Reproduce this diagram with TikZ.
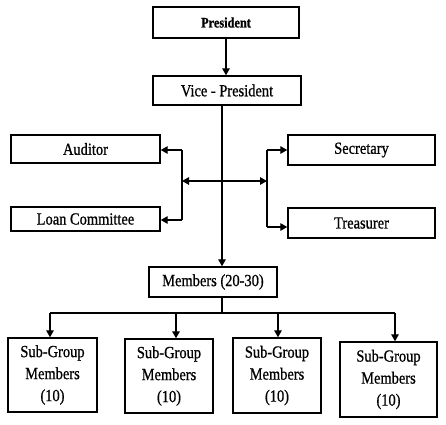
\documentclass[tikz,border=0pt]{standalone}
\usepackage{fontspec}
\setmainfont[FakeStretch=0.85,FakeBold=0.8,BoldFeatures={FakeStretch=0.85,FakeBold=0.8}]{Liberation Serif}
\usetikzlibrary{arrows.meta}
\begin{document}
\begin{tikzpicture}[x=1pt,y=-1pt,
  box/.style={draw,line width=1.4pt,rectangle,inner sep=0pt,font=\fontsize{17}{22}\selectfont,align=center},
  conn/.style={line width=1.3pt},
  arr/.style={conn,-{Triangle[length=7pt,width=7.5pt]}},
  darr/.style={conn,{Triangle[length=7pt,width=7.5pt]}-{Triangle[length=7pt,width=7.5pt]}}]
\useasboundingbox (0,0) rectangle (446,424);
\node[box,minimum width=146pt,minimum height=31pt,font=\fontsize{14.5}{16}\selectfont\bfseries] (pres) at (226,22.5) {President};
\node[box,minimum width=148pt,minimum height=29pt] (vp) at (227,90.5) {Vice - President};
\node[box,minimum width=149pt,minimum height=28pt] (aud) at (85.5,149) {Auditor};
\node[box,minimum width=149pt,minimum height=24pt] (loan) at (85.5,219) {Loan Committee};
\node[box,minimum width=147pt,minimum height=30pt] (sec) at (361.5,150) {Secretary};
\node[box,minimum width=147pt,minimum height=30pt] (treas) at (361.5,223) {Treasurer};
\node[box,minimum width=128pt,minimum height=30pt] (mem) at (213,282) {Members (20-30)};
\node[box,minimum width=89pt,minimum height=74pt] (s1) at (52.5,375) {Sub-Group\\Members\\(10)};
\node[box,minimum width=88pt,minimum height=74pt] (s2) at (169,376) {Sub-Group\\Members\\(10)};
\node[box,minimum width=88pt,minimum height=75pt] (s3) at (277,375.5) {Sub-Group\\Members\\(10)};
\node[box,minimum width=97pt,minimum height=75pt] (s4) at (388.5,379.5) {Sub-Group\\Members\\(10)};
% president to vp
\draw[arr] (pres.south) -- (pres.south |- vp.north);
% vp to members
\coordinate (vpo) at (222,0);
\draw[arr] (vpo |- vp.south) -- (vpo |- mem.north);
% brackets
\coordinate (lb) at (182,181);
\coordinate (rb) at (267,181);
\draw[darr] (lb) -- (rb);
\coordinate (lt) at (182,150);
\coordinate (lbt) at (182,220);
\draw[conn] (lt) -- (lbt);
\draw[arr] (lt) -- (lt -| aud.east);
\draw[arr] (lbt) -- (lbt -| loan.east);
\coordinate (rt) at (267,150);
\coordinate (rbt) at (267,227);
\draw[conn] (rt) -- (rbt);
\draw[arr] (rt) -- (rt -| sec.west);
\draw[arr] (rbt) -- (rbt -| treas.west);
% members to subgroups
\coordinate (bus) at (222,313);
\draw[conn] (vpo |- mem.south) -- (bus);
\coordinate (b1) at (50,313);
\coordinate (b2) at (176,313);
\coordinate (b3) at (278,313);
\coordinate (b4) at (395,313);
\draw[conn] (b1) -- (b4);
\draw[arr] (b1) -- (b1 |- s1.north);
\draw[arr] (b2) -- (b2 |- s2.north);
\draw[arr] (b3) -- (b3 |- s3.north);
\draw[arr] (b4) -- (b4 |- s4.north);
\end{tikzpicture}
\end{document}
